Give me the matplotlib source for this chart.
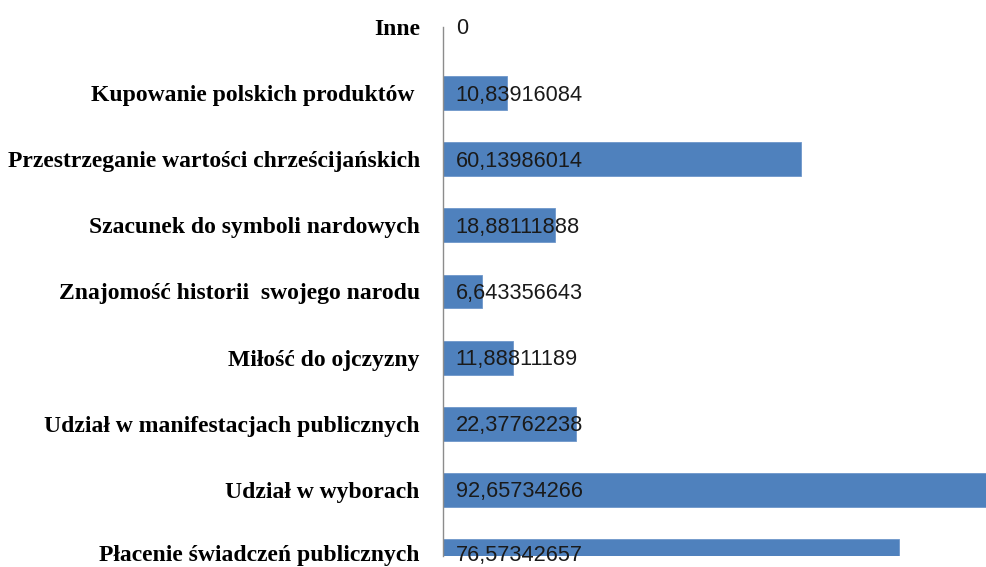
import matplotlib
matplotlib.use("Agg")
import matplotlib.pyplot as plt
from matplotlib.transforms import ScaledTranslation

categories = [
    "Płacenie świadczeń publicznych",
    "Udział w wyborach",
    "Udział w manifestacjach publicznych",
    "Miłość do ojczyzny",
    "Znajomość historii  swojego narodu",
    "Szacunek do symboli nardowych",
    "Przestrzeganie wartości chrześcijańskich",
    "Kupowanie polskich produktów ",
    "Inne",
]
values = [76.57342657, 92.65734266, 22.37762238, 11.88811189, 6.643356643,
          18.88111888, 60.13986014, 10.83916084, 0.0]
value_labels = ["76,57342657", "92,65734266", "22,37762238", "11,88811189", "6,643356643",
                "18,88111888", "60,13986014", "10,83916084", "0"]

fig = plt.figure(figsize=(9.87, 5.67), dpi=100)
ax = fig.add_axes([442.7 / 987, 11 / 567, 1 - 442.7 / 987, 529 / 567])

ypos = list(range(len(categories)))
ax.barh(ypos, values, height=0.514, color="#4F81BD", edgecolor="#6F97CB", linewidth=0.6)
ax.set_xlim(0, 91.4)
ax.set_ylim(0, len(categories) - 1)

ax.set_yticks(ypos)
ax.set_yticklabels(categories, fontfamily="Liberation Serif", fontweight="bold", fontsize=17)
ax.tick_params(axis="y", length=0, pad=16.5)
ax.set_xticks([])
for s in ["top", "right", "bottom"]:
    ax.spines[s].set_visible(False)
ax.spines["left"].set_color("#8C8C8C")
ax.spines["left"].set_linewidth(1.0)

# nudge the bottom label up slightly so it stays inside the figure
lbl0 = ax.get_yticklabels()[0]
lbl0.set_transform(lbl0.get_transform() + ScaledTranslation(0, 2.5 / 100, fig.dpi_scale_trans))

for y, lab in zip(ypos, value_labels):
    dy = -2 if y > 0 else 0
    ax.annotate(lab, xy=(0, y), xytext=(13, dy), textcoords="offset pixels",
                ha="left", va="center", fontsize=15.7, fontfamily="Liberation Sans",
                color="#1a1a1a", annotation_clip=False, clip_on=False)

fig.savefig("out.png", dpi=100)
